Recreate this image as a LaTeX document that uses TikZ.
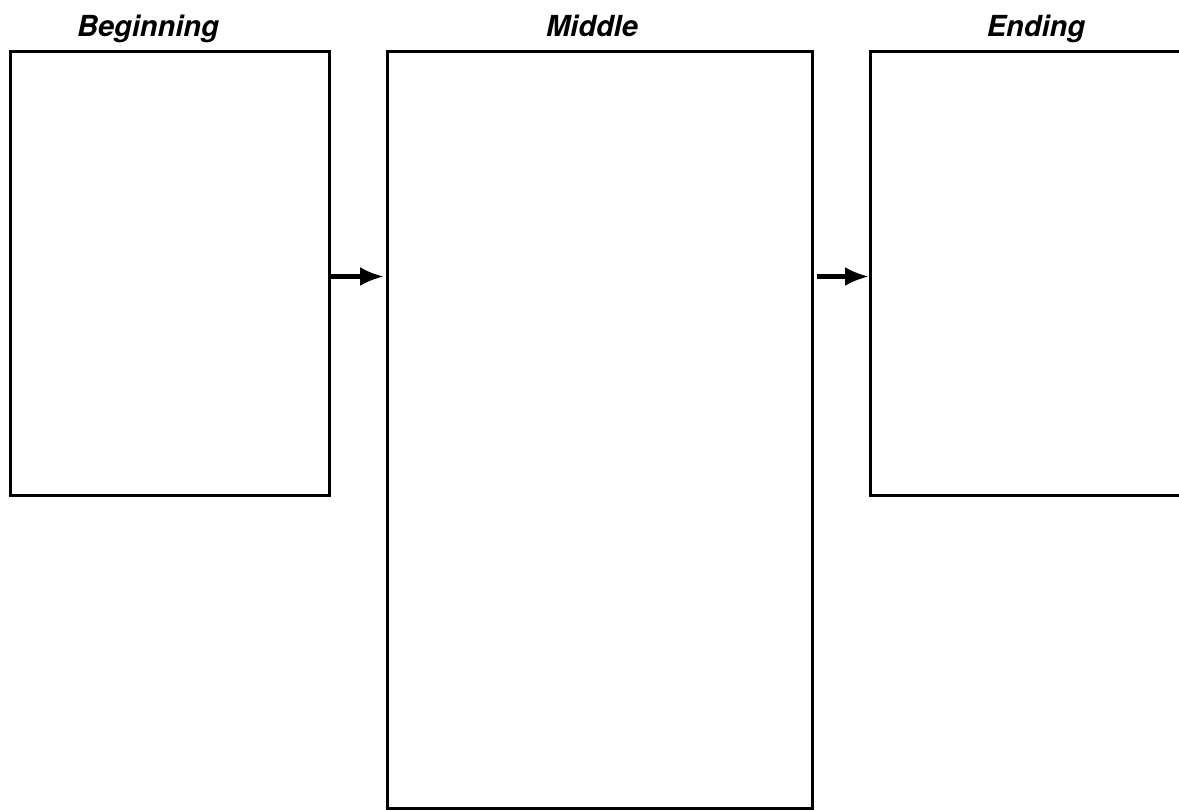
\documentclass[tikz,border=0pt]{standalone}
\usepackage{fontspec}
\setsansfont{TeX Gyre Heros}
\usetikzlibrary{arrows.meta, positioning}

\begin{document}
\begin{tikzpicture}[
  x=1pt, y=-1pt,
  box/.style={rectangle, draw, line width=3pt, outer sep=0pt, anchor=north west},
  title/.style={anchor=base, font=\sffamily\bfseries\itshape\fontsize{29}{32}\selectfont},
  link/.style={-{Latex[length=24pt, width=19pt]}, line width=4.5pt}
]
\useasboundingbox (0,0) rectangle (1179,810);
\clip (0,0) rectangle (1179,810);

\node[box, minimum width=319pt, minimum height=443pt] (begin) at (10,52) {};
\node[box, minimum width=425pt, minimum height=756pt, right=58pt of begin.north east, anchor=north west] (middle) {};
\node[box, minimum width=319pt, minimum height=443pt, right=58pt of middle.north east, anchor=north west] (end) {};

\node[title] (tbegin) at (148,37) {Beginning};
\node[title] (tmiddle) at (592,37) {Middle};
\node[title] (tend) at (1036,37) {Ending};

\coordinate (a1) at ([yshift=-3pt]begin.east);
\coordinate (a2) at (a1 -| end.west);
\draw[link, shorten >=3pt] (a1) -- (a1 -| middle.west);
\draw[link, shorten <=5pt, shorten >=1pt] (a2 -| middle.east) -- (a2);
\end{tikzpicture}
\end{document}
